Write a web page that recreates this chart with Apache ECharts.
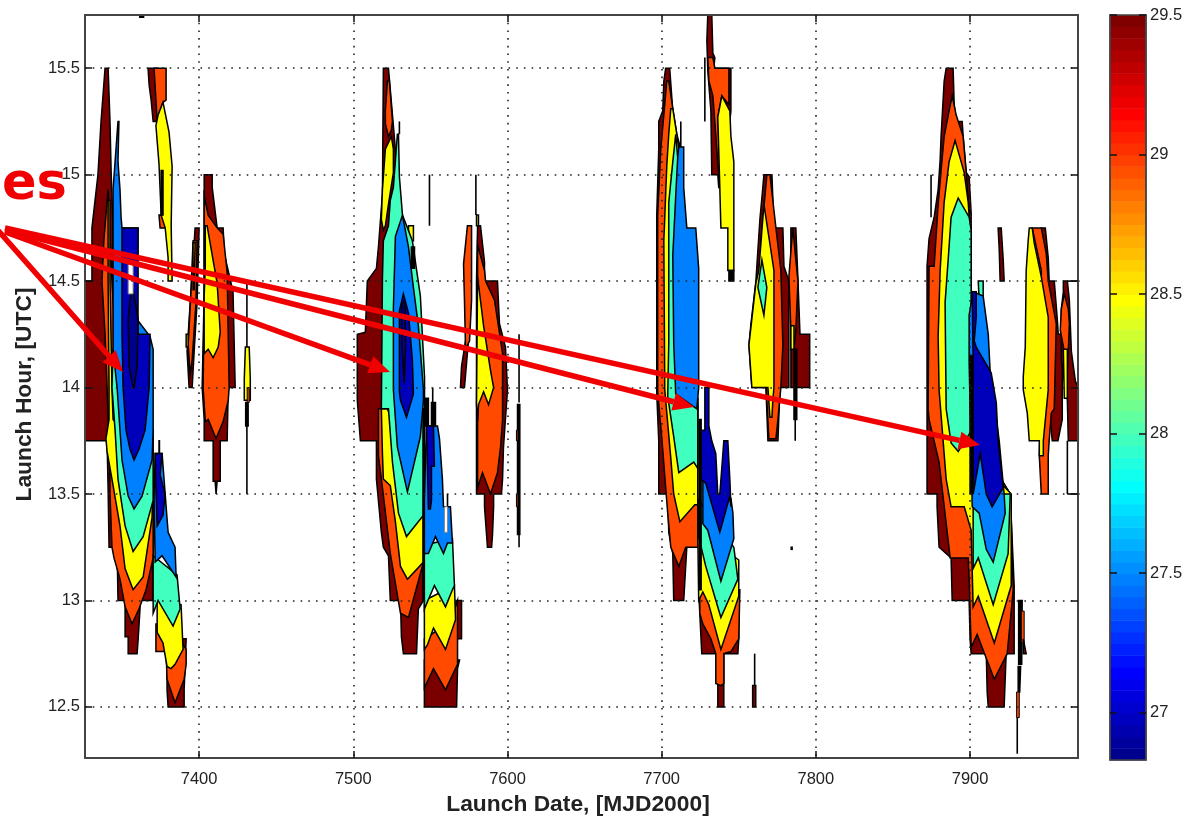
<!DOCTYPE html>
<html><head><meta charset="utf-8">
<style>html,body{margin:0;padding:0;background:#fff}#c{width:1184px;height:818px}</style>
<script src="https://cdn.jsdelivr.net/npm/echarts@6/dist/echarts.min.js"></script>
</head><body><div id="c"></div>
<script>
// Contour regions: flat lists of date (MJD2000), hour (UTC) pairs.
const hourTicks = [12.5,13,13.5,14,14.5,15,15.5];
const dateTicks = [7400,7500,7600,7700,7800,7900];
const barTicks = [27,27.5,28,28.5,29,29.5];

const regions29 = [ // dark red
[7339,15.5,7341,15.5,7342.2,15.25,7343,15,7344.2,14.75,7344.2,14.5,7352,14,7370,13.75,7370,13,7362,13,7360.5,12.82,7359.8,12.75,7354,12.75,7354,12.83,7352,12.83,7352,13,7347.4,13,7346.8,13.25,7341.6,13.25,7341,13.52,7340.3,13.75,7326,13.75,7326,14.5,7330.5,14.5,7330.5,14.75,7334.4,15,7336.4,15.25],
[7379.2,12.82,7391.6,12.82,7390.3,12.58,7390.3,12.5,7379.9,12.5,7379.2,12.58],
[7366.9,15.5,7373.4,15.5,7374,15.3,7372.8,15.25,7370.2,15.25,7368.9,15.35,7367.6,15.42],
[7397.4,14.75,7400,14.75,7398.7,14.4,7396.8,14.17,7395.5,14,7393.5,14,7392.2,14.17,7394.8,14.46],
[7403.3,15,7408.5,15,7408.5,14.94,7411.7,14.75,7415.6,14.75,7416.3,14.63,7418.2,14.57,7422,14.45,7423.4,14,7418.9,14,7418.2,13.75,7413.7,13.75,7413.7,13.56,7411.7,13.56,7411,13.5,7410.4,13.56,7409.1,13.56,7409.1,13.75,7403.3,13.75,7403.3,13.85,7402,14,7403.3,14.45],
[7519.5,15.5,7522.8,15.5,7527.3,15.12,7530.6,14.65,7543.6,13.85,7545.5,13,7542.2,12.96,7541,12.75,7532.5,12.75,7531.2,12.83,7530.6,13,7524,13,7522.8,13.21,7519.5,13.25,7518.2,13.32,7515,13.57,7515,13.75,7504.6,13.75,7502.6,13.94,7502.6,14.25,7507.8,14.26,7509.1,14.5,7515,14.56,7516.3,14.66,7518.9,14.91],
[7546.1,12.72,7568.9,12.72,7567.6,12.68,7567,12.5,7546.1,12.5],
[7564.3,13,7570.2,13,7570.2,12.82,7567.6,12.82,7566.3,12.72,7564.3,12.72],
[7572.8,14.22,7574.7,14.22,7572.1,14,7569.5,14,7570.2,14.1],
[7580.6,14.76,7582.5,14.76,7585.1,14.59,7585.1,14.5,7593.5,14.5,7594.8,14.3,7598.7,14.19,7600,13.99,7597.4,13.72,7596.8,13.57,7596.1,13.5,7591,13.5,7591,13.44,7590.3,13.31,7589.7,13.25,7587,13.25,7586.4,13.31,7585.1,13.44,7585.1,13.5,7579.9,13.5,7579.9,14.5],
[7702.6,15.5,7705.2,15.5,7707.2,15.3,7712.4,13.95,7723.4,13.29,7716.3,13.25,7714.3,13,7707.8,13,7707.2,13.22,7704.6,13.32,7703.9,13.5,7698.1,13.5,7698.1,13.75,7696.8,13.97,7696.8,14.81,7698.1,15.12,7698.1,15.25,7700.7,15.3,7701.4,15.44],
[7729.9,15.75,7732.5,15.75,7733.2,15.57,7734.5,15.55,7733.8,15.5,7744.9,15.5,7744.9,15.3,7739.7,14.94,7737,14.94,7736.4,15,7732.5,15,7731.9,15.3,7729.9,15.49,7729.3,15.63],
[7766.3,15,7771.5,15,7772.8,14.75,7778.6,14.75,7779.3,14.57,7782.5,14.5,7782.5,14,7776.7,14,7775.4,13.75,7768.9,13.75,7767.6,14,7758.5,14,7756.6,14.2,7757.9,14.3,7761.1,14.5,7763.7,14.79,7765.6,14.94],
[7783.8,14.75,7787,14.75,7788.4,14.5,7789.7,14.25,7796,14.25,7796,14,7787,14,7783.8,14,7783.8,14.4],
[7724,13.05,7750,13.05,7750,12.82,7749.4,12.75,7740.3,12.75,7740.3,12.5,7736.4,12.5,7736.4,12.75,7726,12.75,7724.7,12.94],
[7884.5,15.5,7889,15.5,7889.7,15.33,7891,15.25,7894.9,15.25,7895.5,15.18,7897.5,15.01,7899.4,14.99,7900.7,14.82,7900.7,13.8,7920.2,13.57,7926,13.5,7928.6,13.07,7928.6,12.75,7923.4,12.75,7922.1,12.5,7911.8,12.5,7911.1,12.57,7910.5,12.75,7900.7,12.75,7900,12.82,7899.4,13,7888.4,13,7887.7,13.2,7879.9,13.25,7878.6,13.44,7878.6,13.5,7872.1,13.5,7872.1,14.57,7873.4,14.7,7876.7,14.8,7879.3,14.93,7880.6,15.07,7881.2,15.18,7883.2,15.44],
[7918.2,14.75,7920.2,14.75,7921.5,14.6,7922.1,14.5,7919.5,14.5,7918.9,14.65],
[7946.2,14.75,7948.8,14.75,7950.7,14.61,7951.3,14.5,7954.6,14.5,7956.6,14.32,7957.2,14.25,7959.8,14.25,7959.8,13.85,7957,13.75,7953.3,13.75,7951.3,13.9,7950.7,14.05,7949.4,14.4],
[7960.5,14.5,7963.1,14.5,7964.4,14.41,7965.7,14.17,7968.3,14.03,7970.2,14,7970.2,13.75,7963.7,13.75,7963.1,13.94,7959.2,14.13,7959.2,14.37,7960.5,14.45]
];
const regions288 = [ // orange
[7341,14.93,7342.2,14.7,7343.5,14.5,7345.5,14.25,7347.4,14,7370.2,13.62,7370.2,13.2,7365.6,13.05,7361,12.96,7356.5,12.89,7352,12.97,7348.7,13.1,7344.8,13.2,7343.5,13.25,7342.2,13.5,7342.2,13.62,7340.3,14,7339,14.25,7337,14.5,7338.3,14.7],
[7372,12.89,7381.2,12.89,7391.6,12.77,7391.6,12.7,7390.3,12.63,7384.4,12.52,7379.2,12.63,7378.6,12.76,7372,12.76],
[7370.8,15.5,7378.6,15.5,7378.6,15.35,7376.6,15.34,7372.8,15.25,7372,15.35],
[7374,14.81,7378,14.81,7378,14.75,7374.7,14.75],
[7396.1,14.69,7398.7,14.69,7398,14.4,7395.5,14.13,7394.2,14.06,7392.9,14.2,7394.8,14.46],
[7403.3,14.9,7405.9,14.81,7411.7,14.75,7415.6,14.72,7418.2,14.54,7419.5,14,7418.9,13.94,7415.6,13.84,7411,13.76,7405.9,13.85,7404,13.84,7402.6,14,7403.3,14.43],
[7522.1,15.44,7523.4,15.44,7525.4,15.25,7524.7,15.21,7522.8,15.18,7520.8,15.24,7520.8,15.3],
[7516.3,13.9,7519.5,13.9,7545.5,13.57,7545.5,13.18,7535.8,12.92,7530.6,12.94,7524,13.22,7518.9,13.53,7516.3,13.68],
[7546.1,12.82,7563,12.9,7567.6,13,7567.6,12.7,7559.8,12.58,7552,12.68,7546.1,12.59],
[7574,14.76,7576.7,14.76,7576.7,14.41,7575.4,14.22,7572.8,14.18,7572.1,14.41,7571.5,14.58],
[7580.6,14.67,7585.1,14.55,7585.8,14.5,7591.6,14.41,7596.8,14.16,7596.8,13.85,7595.5,13.72,7593.5,13.6,7589,13.5,7583.8,13.6,7580.6,13.53],
[7703.3,15.44,7704.6,15.44,7707.2,15.31,7709.8,15.19,7712.4,15.12,7712.4,13.95,7723.4,13.95,7723.4,13.25,7715.6,13.25,7711.1,13.16,7705.9,13.25,7703.9,13.41,7700,13.77,7697.4,13.98,7697.4,14.81,7699.4,15.12,7702,15.33],
[7729.9,15.55,7733.2,15.55,7734.5,15.5,7743.6,15.5,7743.6,15.33,7739,15.37,7736.4,15.27,7738.4,14.94,7737,15,7733.2,15.37,7730.6,15.44],
[7768.2,15,7770.2,15,7774.1,14.75,7777.3,14.55,7778.6,14.2,7777.3,14,7775.4,13.85,7774.1,13.76,7769.5,13.76,7768.2,13.94,7765.6,14.41,7764.4,14.69],
[7785.1,14.75,7787,14.6,7788.4,14.5,7787,14.27,7785.8,14.18,7783.8,14.27,7782.5,14.52,7783.8,14.64],
[7724.7,13.05,7750.7,13.05,7750,12.82,7744.9,12.76,7740.3,12.75,7740.3,12.61,7738.4,12.6,7735.1,12.61,7735.1,12.75,7731.9,12.82,7726.7,12.89,7724.7,12.94],
[7888.4,15.37,7891,15.28,7895.5,15.18,7897.5,15.01,7899.4,14.82,7900.7,13.8,7920.2,13.57,7926,13.5,7926.7,13.38,7928,13.05,7924.1,12.75,7915.7,12.63,7904.6,12.84,7900.7,12.78,7899.4,13.1,7898.8,13.2,7887.1,13.2,7879.9,13.65,7873.4,13.85,7872.8,13.9,7873.4,14.57,7876.7,14.57,7879.3,14.86,7881.2,15.02,7883.2,15.18,7886.4,15.3],
[7940.3,14.75,7946.2,14.75,7949.4,14.63,7950.7,14.5,7955.9,14.3,7954.6,13.9,7952.7,13.88,7951.3,13.75,7950.7,13.68,7950.7,13.5,7946.2,13.5,7944.9,13.68,7946.2,13.95,7946.2,14.55],
[7961.1,14.44,7963.7,14.37,7964.4,14.3,7963.7,14.17,7963.1,14.08,7961.1,14.17,7958.5,14.27,7959.2,14.37]
];
const regions285 = [ // yellow
[7341,14.88,7342.2,14.88,7342.2,14.5,7343.5,14,7344.2,13.85,7370.2,13.62,7369.5,13.39,7363.7,13.11,7357.2,13.05,7352,13.15,7348.7,13.35,7343.5,13.57,7340.3,13.7,7339.6,13.76,7341.6,13.85,7341.6,14,7341,14.5],
[7372.8,13,7388.3,12.98,7389.6,12.77,7384.4,12.7,7381.8,12.68,7379.2,12.69,7376.6,12.8,7372.8,12.85],
[7376.6,15.34,7380.5,15.2,7382.5,15.04,7381.9,14.76,7382.5,14.5,7379.9,14.5,7379.9,14.61,7378,14.75,7375.4,14.81,7374,15.05,7372,15.23,7373.4,15.28],
[7396.1,14.68,7397.4,14.68,7396.8,14.46,7396.1,14.46],
[7391.6,14.25,7392.9,14.25,7392.9,14.19,7391.6,14.19],
[7404,14.76,7405.2,14.76,7411.7,14.49,7413.7,14.26,7412.4,14.19,7409.1,14.14,7405.9,14.18,7403.3,14.16,7403.3,14.43,7404,14.57],
[7430,14.19,7432.5,14.19,7433.2,14.04,7433.2,13.94,7429.3,13.94,7429.3,14.04],
[7524.7,15.18,7526,15.12,7526,15.01,7522.8,14.86,7520.8,14.76,7519.5,14.74,7518.2,14.79,7518.9,14.93,7520.8,15.12],
[7518.2,13.9,7522.1,13.9,7545.5,13.52,7545.5,13.18,7535.1,13.1,7530.6,13.16,7527.3,13.37,7524,13.54,7519.5,13.57,7518.9,13.69],
[7535.8,14.76,7539,14.76,7539,14.69,7535.8,14.69],
[7546.1,13,7565.6,13.07,7566.3,12.91,7559.8,12.77,7552,12.87,7548,12.79,7546.1,12.77],
[7580.6,14.52,7584.5,14.29,7589,14.08,7591,14,7587.7,13.92,7584.5,13.98,7581.2,13.92,7580.6,13.84,7579.9,13.92],
[7579.9,14.81,7581.2,14.81,7581.2,14.76,7579.9,14.76],
[7705.9,15.31,7707.2,15.31,7709.8,15.19,7711.1,15.12,7711.1,14.04,7723.4,13.95,7723.4,13.45,7721.5,13.45,7711.8,13.37,7707.8,13.5,7705.9,13.67,7702,13.99,7701.4,14.69,7703.3,15.04,7704.6,15.19],
[7739,15.37,7744.2,15.3,7744.9,15.18,7746.8,15.06,7746.8,14.55,7742.9,14.55,7742.9,14.75,7738.4,14.75,7737.7,14.94,7736.4,15.27],
[7766.3,14.86,7772.8,14.55,7772.8,14,7772.1,13.94,7771.5,13.86,7770.2,13.86,7768.9,14,7758.5,14,7756.6,14.2,7761.1,14.49,7763,14.55],
[7783.8,14.29,7785.8,14.29,7785.8,14.18,7783.8,14.18],
[7723.4,13.33,7750,13.19,7750,13.02,7738.4,12.77,7730.6,12.98,7726.7,13.04,7724,13],
[7890.3,15.16,7896.2,15.01,7898.8,14.87,7900,14.74,7900.7,13.8,7920.2,13.55,7926.7,13.5,7926.7,13.07,7915.7,12.8,7905.3,13.02,7902,12.97,7900.7,13.33,7896.2,13.44,7887.7,13.44,7884.5,13.57,7879.9,13.99,7879.3,14.24,7880.6,14.55,7883.2,14.87,7886.4,15.06],
[7938.4,14.75,7940.3,14.75,7941.6,14.68,7946.2,14.52,7950.7,14.33,7950.7,13.99,7947.5,13.75,7947.5,13.68,7944.9,13.68,7944.9,13.75,7938.4,13.75,7937.1,13.88,7934.5,13.99,7934.5,14.05,7935.8,14.19,7936.4,14.55,7937.7,14.69],
[7960.5,14.18,7963.1,14.18,7963.1,13.95,7961.1,13.95]
];
const regions28 = [ // teal
[7344.2,14.18,7347.4,14.18,7347.4,14,7370.2,13.8,7370.2,13.47,7363.7,13.3,7357.2,13.23,7352,13.35,7347.4,13.57,7345.5,13.8,7343.5,14],
[7370.2,13.21,7385.7,13.12,7387.7,12.96,7383.1,12.88,7373.4,13,7370.2,12.94],
[7528.6,15.19,7529.3,15.19,7529.9,14.99,7531.9,14.81,7538.3,14.69,7543.5,14.43,7546.2,14.05,7546.2,13.88,7545.5,13.4,7534.5,13.3,7529.3,13.41,7525.4,13.65,7522.8,13.9,7518.2,13.9,7518.9,14.51,7519.5,14.69,7522.8,14.76,7524,14.88,7526,14.94],
[7546.1,13.26,7564.3,13.29,7565.6,13.07,7564.3,13.05,7559.8,12.97,7552.6,13.07,7546.1,12.96],
[7709.1,15.19,7710.4,15.08,7712.4,14.43,7723.4,13.92,7723.4,13.62,7720.8,13.65,7711.1,13.6,7707.8,13.77,7703.9,13.96,7704.6,14.21,7704.6,14.87,7707.2,15.06],
[7765,14.6,7768.2,14.47,7766.3,14.34,7762.4,14.47],
[7724,13.47,7746.8,13.25,7749.4,13.1,7738.4,12.92,7728.6,13.16,7724,13.3],
[7892.3,14.89,7899.4,14.8,7900.7,14.74,7900.7,13.8,7899.4,13.78,7892.3,13.7,7887.7,13.74,7884.5,13.9,7883.8,14.4,7885.8,14.6,7887.7,14.8],
[7902,13.5,7926,13.5,7926,13.49,7924.7,13.22,7915,12.98,7905.3,13.2,7902,13.15],
[7905.3,14.5,7908.5,14.5,7908.5,14.41,7905.9,14.41]
];
const regions275 = [ // blue
[7347.4,15.25,7348,15.25,7347.4,15.06,7348.7,14.93,7349.4,14.8,7350,14.75,7360.4,14.75,7359.8,14.32,7368.2,14.24,7370.2,14.18,7370.2,13.8,7369.5,13.66,7363,13.49,7357.8,13.43,7354,13.49,7350,13.66,7346.8,14,7344.2,14.18,7344.2,14.75,7344.2,14.93,7345.5,15.06],
[7371.5,13.69,7376,13.69,7378,13.5,7379.9,13.32,7384.4,13.25,7385.1,13.11,7376,13.21,7371.5,13.18,7370.8,13.47],
[7531.9,14.81,7535.8,14.66,7539,14.47,7542.2,14.29,7545.5,13.99,7545.5,13.94,7543.5,13.77,7535.1,13.51,7528.6,13.72,7526,13.99,7526,14.37,7527.3,14.71],
[7547.4,13.82,7554.6,13.82,7555.9,13.76,7557.8,13.57,7558.5,13.44,7563,13.44,7564.3,13.27,7561.1,13.27,7558.5,13.22,7553.3,13.3,7548.7,13.22,7546.1,13.22,7546.1,13.47],
[7711.1,15.13,7714.3,15.13,7714.3,14.94,7716.3,14.75,7722.1,14.75,7724,14.56,7724,14,7722.8,13.9,7709.1,13.97,7707.8,14.21,7707.2,14.62,7709.1,14.9,7710.4,15.08],
[7726.7,13.6,7729.3,13.57,7735.8,13.49,7744.9,13.48,7746.2,13.41,7746.8,13.29,7738.4,13.09,7729.9,13.33,7726.7,13.36],
[7902,14.45,7908.5,14.43,7911.8,14.25,7913,14.08,7918.9,13.75,7922.1,13.5,7922.8,13.41,7915,13.18,7910.5,13.24,7905.9,13.41,7901.4,13.44,7899.4,14.12,7899.4,14.34]
];
const regions27 = [ // navy
[7350,14.75,7360.4,14.75,7360.4,14.25,7368.2,14.25,7367.6,14,7365,13.8,7361,13.71,7357.8,13.66,7355.2,13.71,7352.6,13.8,7350.7,14,7350,14.25],
[7371.5,13.69,7376,13.69,7374.7,13.59,7378,13.5,7376.6,13.4,7372.8,13.35,7372,13.52],
[7532.5,14.44,7535.8,14.35,7538.3,14.13,7539,13.97,7534.5,13.86,7530.6,13.94,7529.9,13.98,7529.9,14.36],
[7547.4,13.82,7552,13.82,7552.6,13.63,7550.7,13.63,7550.7,13.47,7550,13.43,7548.7,13.43,7548.1,13.63],
[7725.4,13.8,7728,13.8,7728,14,7730.6,14,7730.6,13.82,7732.5,13.75,7735.1,13.69,7736.4,13.5,7737.7,13.5,7739.7,13.69,7740.3,13.75,7742.9,13.75,7744.2,13.57,7744.9,13.44,7744.2,13.49,7737.7,13.32,7728.6,13.55,7725.4,13.57],
[7901.4,14.45,7904,14.45,7904,14.33,7902.7,14.22,7904,14.19,7913.7,14.07,7917,13.93,7918.2,13.75,7921.5,13.53,7914.3,13.44,7910.5,13.5,7906.6,13.69,7902,13.5,7902,14.11]
];
const regions268 = [ // darkest
[7355.9,14.46,7357.2,14.46,7360.4,14.32,7359.8,14.1,7357.8,14,7357.2,14,7354.6,14.1,7354,14.32],
[7531.5,14.4,7533.5,14.4,7534,14.2,7533,14.02,7531.5,14.2]
];
const thinSpikes = [ // narrow black slivers
[7374,13.75,7374.3,13.75,7374.3,13.69,7374,13.69],
[7375.4,15.02,7376.6,15.02,7376.6,14.81,7375.4,14.81],
[7431,14.5,7431,14.19],[7430.2,13.93,7431.8,13.93,7431.8,13.82,7430.2,13.82],[7431,13.82,7431,13.5],
[7361.5,15.75,7364,15.75,7364,15.74,7361.5,15.74],
[7529.9,15.25,7529.9,15.19],[7537.7,14.66,7539.7,14.66,7539.7,14.56,7537.7,14.56],
[7549.4,15,7549.4,14.76],[7551.5,14,7551.5,13.93],
[7545.2,13.9,7546,13.9,7546,13,7545.2,13],
[7546.8,13.95,7548.7,13.95,7548.7,13.82,7546.8,13.82],[7550.7,13.93,7553.3,13.93,7553.3,13.82,7550.7,13.82],
[7561.1,13.5,7561.1,13.44],[7579.5,15,7579.5,14.81],
[7607.5,14.25,7607.5,13.93],[7606.5,13.92,7608,13.92,7608,13.31,7606.5,13.31],[7607.5,13.31,7607.5,13.25],
[7712.4,15.25,7712.4,15.13],[7743.6,14.55,7746.8,14.55,7746.8,14.5,7743.6,14.5],[7728,15.55,7728,15.25],
[7785.8,14.18,7787.6,14.18,7787.6,14,7785.8,14],[7785.8,14,7787.6,14,7787.6,13.85,7785.8,13.85],[7786.6,13.85,7786.6,13.75],
[7724.4,13.85,7725.6,13.85,7725.6,13.05,7724.4,13.05],[7760.3,12.75,7760.3,12.6],
[7784,13.25,7784.6,13.25,7784.6,13.24,7784,13.24],
[7874.7,15,7874.7,14.8],[7900,14.15,7901.5,14.15,7901.5,13.5,7900,13.5],
[7931.5,13,7933.8,13,7933.5,12.7,7931.5,12.7],[7931.2,12.69,7932.8,12.69,7932.2,12.57,7931.2,12.57],[7930.6,12.45,7930.6,12.28],
[7963.1,13.75,7963.1,13.5],[7963.1,13.5,7971,13.5],[7963.1,14.5,7971,14.5]
];
const gapRegions = [ // holes left empty inside a region
[7354,14.58,7357.2,14.58,7357.2,14.44,7354,14.44],
[7559.1,13.44,7561.1,13.44,7561.1,13.32,7559.1,13.32]
];
const topOrange = [
[7431.2,14,7432.5,14,7432.5,13.93,7431.2,13.93],
[7605.8,13.8,7606.8,13.8,7606.8,13.75,7605.8,13.75],[7605.8,13.5,7606.8,13.5,7606.8,13.44,7605.8,13.44],
[7933.2,12.95,7935.1,12.95,7935.1,12.8,7933.2,12.8],[7930.2,12.57,7931.9,12.57,7931.9,12.45,7930.2,12.45]
];
const topDarkRed = [
[7759,12.6,7761,12.6,7761,12.5,7759,12.5],
[7934.5,12.82,7936.4,12.75,7934.5,12.75]
];

const xMin = 7326, xMax = 7970, yMin = 12.26, yMax = 15.75;
const barMin = 26.83, barMax = 29.5, barSteps = 64;

function clamp(v){return Math.max(0,Math.min(1,v));}
function jet(v){
  const r=clamp(Math.min(4*v-1.5,-4*v+4.5)),g=clamp(Math.min(4*v-0.5,-4*v+3.5)),b=clamp(Math.min(4*v+0.5,-4*v+2.5));
  return 'rgb('+Math.round(r*255)+','+Math.round(g*255)+','+Math.round(b*255)+')';
}
const barBands=[];
for(let i=0;i<barSteps;i++)barBands.push([0,barMin+(barMax-barMin)*i/barSteps,barMin+(barMax-barMin)*(i+1)/barSteps,jet((i+1)/barSteps)]);

function regionSeries(polys,fill,lineWidth,z){
  return {type:'custom',xAxisIndex:0,yAxisIndex:0,coordinateSystem:'cartesian2d',silent:true,z:z,animation:false,
    data:polys.map((p,i)=>[p[0],p[1],i]),encode:{x:0,y:1},
    renderItem(params,api){
      const p=polys[params.dataIndex],pts=[];
      for(let k=0;k<p.length;k+=2)pts.push(api.coord([p[k],p[k+1]]));
      if(pts.length===2)return {type:'line',shape:{x1:pts[0][0],y1:pts[0][1],x2:pts[1][0],y2:pts[1][1]},style:{stroke:'#000',lineWidth:1.6}};
      return {type:'polygon',shape:{points:pts},style:{fill:fill,stroke:fill==='#fff'?'#888':'#000',lineWidth:lineWidth}};
    }};
}
const lw=1.5;
const series=[
 regionSeries(regions29,'#7a0000',lw,2),
 regionSeries(regions288,'#ff4a00',lw,2),
 regionSeries(regions285,'#ffff00',lw,2),
 regionSeries(regions28,'#40ffbf',lw,2),
 regionSeries(regions275,'#0080ff',lw,2),
 regionSeries(regions27,'#0000bb',lw,2),
 regionSeries(regions268,'#00008f',lw,2),
 regionSeries(thinSpikes,'#000',lw,2),
 regionSeries(gapRegions,'#fff',1,2),
 regionSeries(topOrange,'#ff4a00',1,2),
 regionSeries(topDarkRed,'#7a0000',lw,2),
 {type:'custom',xAxisIndex:2,yAxisIndex:2,silent:true,z:2,animation:false,
  data:barBands,encode:{x:0,y:[1,2]},
  renderItem(params,api){
    const a=api.coord([0,api.value(1)]),b=api.coord([1,api.value(2)]);
    return {type:'rect',shape:{x:a[0],y:b[1],width:b[0]-a[0],height:a[1]-b[1]+0.5},style:{fill:barBands[params.dataIndex][3]}};
  }}
];
const lineC='#444',tickC='#111',labelC='#222',fam='"Liberation Sans",Arial,sans-serif';
const chart=echarts.init(document.getElementById('c'),null,{renderer:'canvas'});
const ticks=vals=>({show:true,inside:true,length:7,customValues:vals,lineStyle:{color:tickC,width:1.5}});
const hidden=(vals)=>({show:false,customValues:vals});
const dot={show:true,lineStyle:{color:'#222',width:1.6,type:[1.6,6.1]}};
const textS={fontFamily:fam,fontSize:16.5,color:labelC};
const titleS={fontFamily:fam,fontSize:22.8,fontWeight:'bold',color:'#222'};
function arrow(x1,y1,x2,y2){
  const a=Math.atan2(y2-y1,x2-x1),L=21,W=9,cx=Math.cos(a),sy=Math.sin(a);
  const bx=x2-L*cx,by=y2-L*sy;
  return [
    {type:'line',z:20,shape:{x1,y1,x2:bx,y2:by},style:{stroke:'#f00000',lineWidth:5.5}},
    {type:'polygon',z:20,shape:{points:[[x2,y2],[bx-W*sy,by+W*cx],[bx+W*sy,by-W*cx]]},style:{fill:'#f00000'}}
  ];
}
const plain=v=>String(v);
chart.setOption({
  animation:false,backgroundColor:'#fff',
  grid:[{left:85,top:15,width:993,height:743,containLabel:false,outerBoundsMode:'none'},{left:1110,top:15,width:36,height:745,containLabel:false,outerBoundsMode:'none'}],
  xAxis:[
   {type:'value',gridIndex:0,min:xMin,max:xMax,position:'bottom',z:4,
    name:'Launch Date, [MJD2000]',nameLocation:'middle',nameGap:33,nameTextStyle:{...titleS,padding:[0,7,0,0]},
    axisLine:{show:true,onZero:false,lineStyle:{color:lineC,width:2}},axisTick:ticks(dateTicks),
    axisLabel:{customValues:dateTicks,margin:13,formatter:plain,...textS},splitLine:dot},
   {type:'value',gridIndex:0,min:xMin,max:xMax,position:'top',z:4,
    axisLine:{show:true,onZero:false,lineStyle:{color:lineC,width:2}},axisTick:ticks(dateTicks),axisLabel:hidden(dateTicks),splitLine:{show:false}},
   {type:'value',gridIndex:1,min:0,max:1,show:false}
  ],
  yAxis:[
   {type:'value',gridIndex:0,min:yMin,max:yMax,position:'left',z:4,
    name:'Launch Hour, [UTC]',nameLocation:'middle',nameGap:49,nameRotate:90,nameTextStyle:{...titleS,padding:[0,16,0,0]},
    axisLine:{show:true,onZero:false,lineStyle:{color:lineC,width:2}},axisTick:ticks(hourTicks),
    axisLabel:{customValues:hourTicks,margin:5,...textS},splitLine:dot},
   {type:'value',gridIndex:0,min:yMin,max:yMax,position:'right',z:4,
    axisLine:{show:true,onZero:false,lineStyle:{color:lineC,width:2}},axisTick:ticks(hourTicks),axisLabel:hidden(hourTicks),splitLine:{show:false}},
   {type:'value',gridIndex:1,min:barMin,max:barMax,position:'right',z:4,
    axisLine:{show:true,onZero:false,lineStyle:{color:lineC,width:1.5}},axisTick:ticks(barTicks),
    axisLabel:{customValues:barTicks,margin:4,...textS},splitLine:{show:false}},
   {type:'value',gridIndex:1,min:barMin,max:barMax,position:'left',z:4,
    axisLine:{show:true,onZero:false,lineStyle:{color:lineC,width:1.5}},axisTick:ticks(barTicks),axisLabel:hidden(barTicks),splitLine:{show:false}}
  ],
  series:series,
  graphic:{elements:[
    {type:'text',z:20,x:2,y:160,style:{text:'es',fontFamily:'"DejaVu Sans"',fontWeight:'bold',fontSize:51,fill:'#f00000'}},
    ...arrow(-5,227,123,372),...arrow(5,232,390,372),...arrow(5,230,694,407),...arrow(5,228,980,445),
    {type:'rect',z:4,shape:{x:1110,y:15,width:36,height:745},style:{fill:'none',stroke:lineC,lineWidth:1.5}}
  ]}
});
</script></body></html>
